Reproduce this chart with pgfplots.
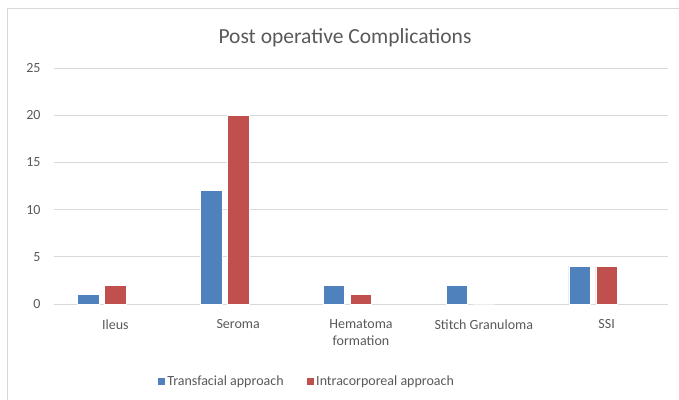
\documentclass[border=0pt]{standalone}
\usepackage{pgfplots}
\pgfplotsset{compat=1.18}
\usepackage{fontspec}
\setmainfont{Carlito}
\definecolor{bblue}{HTML}{4F81BD}
\definecolor{bred}{HTML}{C0504D}
\definecolor{txt}{HTML}{595959}
\definecolor{grid}{HTML}{D9D9D9}
\begin{document}
\begin{tikzpicture}[x=1pt,y=1pt]
\useasboundingbox (0,0) rectangle (679,399);
\draw[color=grid, line width=1pt] (7,-10) -- (7,390) -- (700,390);
\node[text=txt, font=\fontsize{21.5}{24}\selectfont] at (345,361) {Post operative Complications};
\begin{axis}[
  at={(54pt,95pt)}, anchor=south west,
  scale only axis, width=614pt, height=236pt,
  ybar, bar width=21.5pt,
  xmin=-0.5, xmax=4.5, ymin=0, ymax=25,
  ytick={0,5,10,15,20,25},
  xtick={0,1,2,3,4},
  xticklabels={Ileus,Seroma,{Hematoma\\formation},Stitch Granuloma,SSI},
  xticklabel style={align=center, text=txt, font=\fontsize{14}{16.5}\selectfont, yshift=-8pt},
  yticklabel style={text=txt, font=\fontsize{14}{16}\selectfont, xshift=-10pt},
  /pgf/number format/assume math mode=true,
  axis line style={draw=none},
  major tick style={draw=none},
  ymajorgrids, grid style={color=grid, line width=0.8pt},
  legend style={draw=none, at={(0.411,-0.326)}, anchor=center, font=\fontsize{14}{16}\selectfont, text=txt, legend columns=2, /tikz/every even column/.append style={column sep=20pt}},
  legend image code/.code={\fill[#1] (0pt,-4pt) rectangle (8pt,4pt);},
]
\addplot[fill=bblue, draw=white, line width=0.6pt, bar shift=-27pt] coordinates {(0,1) (1,12) (2,2) (3,2) (4,4)};
\addplot[fill=bred, draw=white, line width=0.6pt, bar shift=0pt] coordinates {(0,2) (1,20) (2,1) (3,0) (4,4)};
\legend{Transfacial approach, Intracorporeal approach}
\end{axis}
\end{tikzpicture}
\end{document}
